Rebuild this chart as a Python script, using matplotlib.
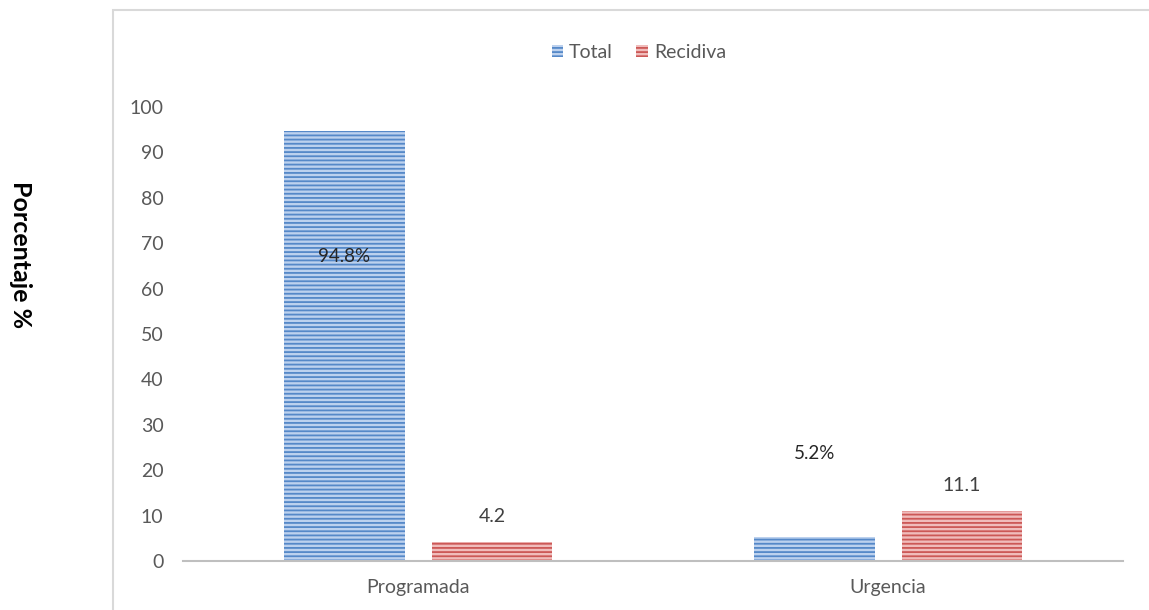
import matplotlib
matplotlib.use("Agg")
import matplotlib.pyplot as plt
from matplotlib.patches import Rectangle, Patch
import numpy as np

# Data
categories = ["Programada", "Urgencia"]
total = [94.8, 5.2]
recidiva = [4.2, 11.1]
total_labels = ["94.8%", "5.2%"]
recidiva_labels = ["4.2", "11.1"]
total_label_y = [67, 23.6]
yticks = [0, 10, 20, 30, 40, 50, 60, 70, 80, 90, 100]

plt.rcParams['font.family'] = ['Lato', 'DejaVu Sans']
plt.rcParams['hatch.linewidth'] = 1.3

fig = plt.figure(figsize=(11.49, 6.10), dpi=100)
ax = fig.add_axes([0.1593, 0.0803, 0.8181, 0.7443])

x = np.arange(len(categories))
w = 0.257
gap = 0.0575
blue_face, blue_hatch = "#bcd1ee", "#5588c8"
red_face, red_hatch = "#f0bcbb", "#cc5856"

ax.bar(x - (w + gap) / 2, total, w, color=blue_face, edgecolor=blue_hatch,
       hatch="----", linewidth=0)
ax.bar(x + (w + gap) / 2, recidiva, w, color=red_face, edgecolor=red_hatch,
       hatch="----", linewidth=0)

tc = "#404040"
for xi, ly, lab in zip(x - (w + gap) / 2, total_label_y, total_labels):
    ax.text(xi, ly, lab, ha="center", va="center", fontsize=13.5, color="#262626")
for xi, v, lab in zip(x + (w + gap) / 2, recidiva, recidiva_labels):
    ax.text(xi, v + 5.6, lab, ha="center", va="center", fontsize=14, color=tc)

ax.set_xlim(-0.5, 1.5)
ax.set_ylim(0, 100)
ax.set_yticks(yticks)
ax.set_xticks(x)
ax.set_xticklabels(categories)
ax.tick_params(axis="both", length=0, labelsize=14, labelcolor="#595959")
ax.tick_params(axis="y", pad=14)
ax.tick_params(axis="x", pad=13)
for s in ["top", "right", "left"]:
    ax.spines[s].set_visible(False)
ax.spines["bottom"].set_color("#bfbfbf")
ax.spines["bottom"].set_linewidth(1.5)

fig.text(0.018, 0.582, "Porcentaje %", rotation=270, ha="center", va="center",
         fontsize=18, fontweight="bold", color="black")

handles = [Patch(facecolor=blue_face, edgecolor=blue_hatch, hatch="----", linewidth=0),
           Patch(facecolor=red_face, edgecolor=red_hatch, hatch="----", linewidth=0)]
fig.legend(handles, ["Total", "Recidiva"], loc="center", bbox_to_anchor=(0.556, 0.914),
           ncol=2, frameon=False, fontsize=14, handlelength=0.6, handleheight=0.6,
           handletextpad=0.3, columnspacing=1.2, labelcolor="#595959")

# chart frame
fig.patches.append(Rectangle((113 / 1149, -0.01), 1.1, 0.9836 + 0.01,
                             transform=fig.transFigure, fill=False,
                             edgecolor="#d9d9d9", linewidth=1.5))

fig.savefig("out.png", dpi=100)
